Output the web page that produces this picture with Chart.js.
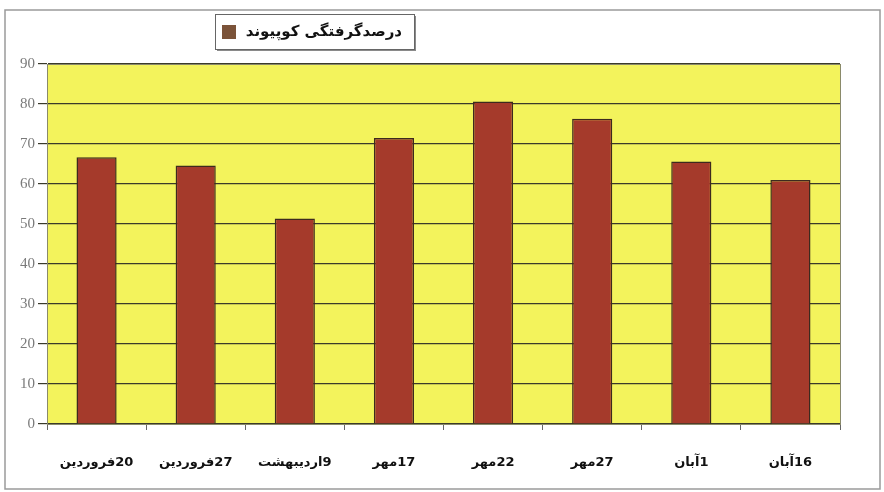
<!DOCTYPE html>
<html lang="fa">
<head>
  <meta charset="UTF-8" />
  <title>درصد گرفتگی کوپیوند</title>
  <script src="https://cdn.jsdelivr.net/npm/chart.js@4/dist/chart.umd.min.js"></script>
  <style>
    html, body { margin: 0; padding: 0; background: #fff; }
    .wrap { width: 884px; height: 492px; }
  </style>
</head>
<body>
  <div class="wrap"><canvas id="c" dir="rtl" width="884" height="492"></canvas></div>
  <script>
    // داده ها
    const dates = ["20فروردین", "27فروردین", "9اردیبهشت", "17مهر",
                   "22مهر", "27مهر", "1آبان", "16آبان"];
    const percents = [66.7, 64.6, 51.4, 71.5, 80.6, 76.3, 65.6, 61];
    const seriesName = "درصدگرفتگی کوپیوند";
    const yTicks = [0, 10, 20, 30, 40, 50, 60, 70, 80, 90];

    // زمینه زرد و قاب
    const background = {
      id: "background",
      beforeDraw(chart) {
        const { ctx, chartArea: a } = chart;
        ctx.save();
        ctx.fillStyle = "#f3f35c";
        ctx.fillRect(a.left, a.top, a.right - a.left, a.bottom - a.top);
        ctx.restore();
      },
      afterDraw(chart) {
        const { ctx, chartArea: a } = chart;
        ctx.save();
        ctx.strokeStyle = "#8a8a6a";
        ctx.lineWidth = 1;
        ctx.strokeRect(a.left + 0.5, a.top + 0.5, a.right - a.left, a.bottom - a.top);
        // قاب بیرونی
        ctx.strokeStyle = "#9a9a9a";
        ctx.lineWidth = 1.5;
        ctx.strokeRect(5, 10, 875, 479);
        ctx.restore();
      }
    };

    // راهنما
    const legendBox = {
      id: "legendBox",
      afterDraw(chart) {
        const ctx = chart.ctx;
        const ds = chart.data.datasets[0];
        ctx.save();
        ctx.fillStyle = "#8a8a8a";
        ctx.fillRect(217, 16, 199, 35);
        ctx.fillStyle = "#fff";
        ctx.fillRect(215, 14, 199, 35);
        ctx.strokeStyle = "#666";
        ctx.lineWidth = 1;
        ctx.strokeRect(215.5, 14.5, 199, 35);
        ctx.fillStyle = "#7b5339";
        ctx.fillRect(222, 25, 14, 14);
        ctx.fillStyle = "#111";
        ctx.font = "bold 15px 'DejaVu Sans'";
        ctx.textAlign = "right";
        ctx.textBaseline = "middle";
        ctx.fillText(ds.label, 402, 32);
        ctx.restore();
      }
    };

    new Chart(document.getElementById("c"), {
      type: "bar",
      data: {
        labels: dates,
        datasets: [{
          label: seriesName,
          data: percents,
          backgroundColor: "#a53a2b",
          borderColor: "#3d2a1e",
          borderWidth: 1.5,
          borderSkipped: "bottom",
          barPercentage: 0.5,
          categoryPercentage: 0.81
        }]
      },
      options: {
        responsive: false,
        animation: false,
        layout: { padding: { top: 64, right: 44, left: 0, bottom: 0 } },
        plugins: { legend: { display: false }, tooltip: { enabled: false } },
        scales: {
          x: {
            grid: { drawOnChartArea: false, color: "#666", tickLength: 6, offset: true },
            border: { color: "#555" },
            ticks: {
              color: "#111",
              font: { family: "DejaVu Sans", size: 13, weight: "bold" },
              padding: 25,
              maxRotation: 0
            },
            afterFit(s) { s.height = 68; }
          },
          y: {
            min: 0,
            max: 90,
            afterBuildTicks(s) { s.ticks = yTicks.map(v => ({ value: v })); },
            grid: { color: "#3a3a2a", lineWidth: 1.2, tickLength: 9 },
            border: { color: "#555" },
            ticks: {
              color: "#7a7a7a",
              font: { family: "Liberation Serif", size: 15 },
              padding: 3
            },
            afterFit(s) { s.width = 47; }
          }
        }
      },
      plugins: [background, legendBox]
    });
  </script>
</body>
</html>
